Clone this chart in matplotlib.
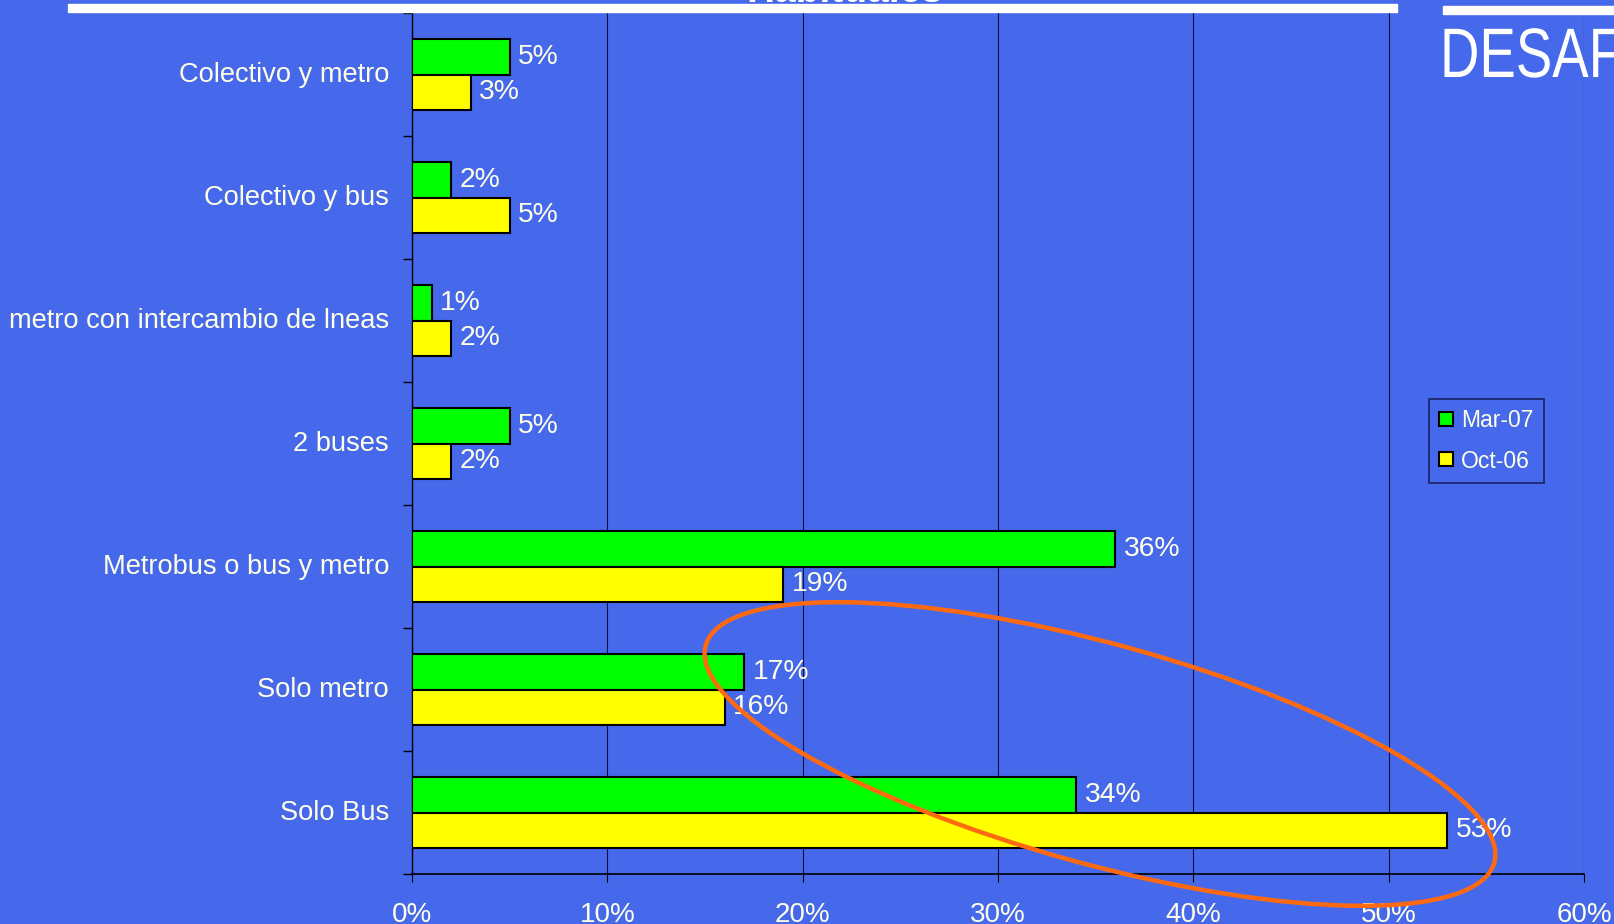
import matplotlib.pyplot as plt
import numpy as np
from matplotlib.patches import Ellipse, Rectangle, PathPatch
from matplotlib.lines import Line2D
from matplotlib.textpath import TextPath
from matplotlib.font_manager import FontProperties
from matplotlib.transforms import Affine2D, ScaledTranslation

plt.rcParams['font.family'] = ['Liberation Sans', 'DejaVu Sans']

# data (top to bottom)
categories = ['Colectivo y metro', 'Colectivo y bus', 'metro con intercambio de lneas',
              '2 buses', 'Metrobus o bus y metro', 'Solo metro', 'Solo Bus']
mar07 = [5, 2, 1, 5, 36, 17, 34]
oct06 = [3, 5, 2, 2, 19, 16, 53]
xticks = [0, 10, 20, 30, 40, 50, 60]

BG = '#4669EB'
TXT = '#FFFFE6'
W, H = 1615, 924

fig = plt.figure(figsize=(W / 100, H / 100), dpi=100, facecolor=BG)
ax = fig.add_axes([412 / W, 1 - 874 / H, (1584 - 412) / W, (874 - 13) / H])
ax.set_facecolor(BG)

y = np.arange(len(categories))
h = 0.285
b1 = ax.barh(y - h / 2, mar07, height=h, color='#00FF00', edgecolor='black', linewidth=1.5, zorder=3)
b2 = ax.barh(y + h / 2, oct06, height=h, color='#FFFF00', edgecolor='black', linewidth=1.5, zorder=3)
ax.bar_label(b1, labels=[f'{v}%' for v in mar07], padding=6, color=TXT, fontsize=20.3)
ax.bar_label(b2, labels=[f'{v}%' for v in oct06], padding=6, color=TXT, fontsize=20.3)

ax.set_xlim(0, 60)
ax.set_ylim(len(categories) - 0.5, -0.5)
ax.set_xticks(xticks, [f'{t}%' for t in xticks])
ax.set_yticks(y, categories)
ax.set_yticks(np.arange(len(categories) + 1) - 0.5, minor=True)
ax.tick_params(axis='y', which='major', length=0, pad=16.5, labelsize=19.6, labelcolor=TXT)
ax.tick_params(axis='y', which='minor', length=6.5, width=1, direction='out')
ax.tick_params(axis='x', length=6, width=0.8, pad=14, labelsize=20, labelcolor=TXT)
ax.grid(axis='x', color='#101040', linewidth=0.8, zorder=0)
for s in ['top', 'right']:
    ax.spines[s].set_visible(False)
ax.spines['left'].set_linewidth(1)
ax.spines['bottom'].set_linewidth(1.2)
# category labels sit a little above the group centre
up = ScaledTranslation(0, 3 / 100, fig.dpi_scale_trans)
for lab in ax.get_yticklabels():
    lab.set_transform(lab.get_transform() + up)

# legend
handles = [Line2D([], [], marker='s', ls='', markersize=9.5, markerfacecolor='#00FF00',
                  markeredgecolor='black', markeredgewidth=1.5),
           Line2D([], [], marker='s', ls='', markersize=9.5, markerfacecolor='#FFFF00',
                  markeredgecolor='black', markeredgewidth=1.5)]
leg = fig.legend(handles, ['Mar-07', 'Oct-06'], loc='upper left',
                 bbox_to_anchor=(1429 / W, 1 - 399 / H), fontsize=16.5, labelcolor=TXT,
                 frameon=True, fancybox=False, facecolor=BG, edgecolor='#101040',
                 handlelength=0.6, handletextpad=0.35, labelspacing=0.75, borderpad=0.45,
                 borderaxespad=0)
leg.get_frame().set_linewidth(1.2)

# orange ellipse highlight (in inches)
ell = Ellipse((1100 / 100, (H - 754) / 100), 2 * 409 / 100, 2 * 110 / 100, angle=-15.4,
              fill=False, edgecolor='#FF6A10', linewidth=3.2, transform=fig.dpi_scale_trans,
              clip_on=False, zorder=10)
fig.add_artist(ell)

# slide decorations at top
fig.add_artist(Rectangle((68 / 100, (H - 12) / 100), (1397 - 68) / 100, 8 / 100, color='white',
                         transform=fig.dpi_scale_trans))
fig.add_artist(Rectangle((1443 / 100, (H - 14) / 100), (W - 1443) / 100, 8 / 100, color='white',
                         transform=fig.dpi_scale_trans))
fig.text(845 / W, (H - 1.5) / H, 'Habituales', ha='center', va='baseline', color='white',
         fontsize=28, fontweight='bold')
tp = TextPath((0, 0), 'DESAF', size=70, prop=FontProperties(family='Liberation Sans'))
tr = Affine2D().scale(0.78, 1).translate(1440, H - 77).scale(1 / 100) + fig.dpi_scale_trans
fig.add_artist(PathPatch(tp, facecolor='white', edgecolor='none', transform=tr))

fig.savefig('out.png', dpi=100, facecolor=BG)
